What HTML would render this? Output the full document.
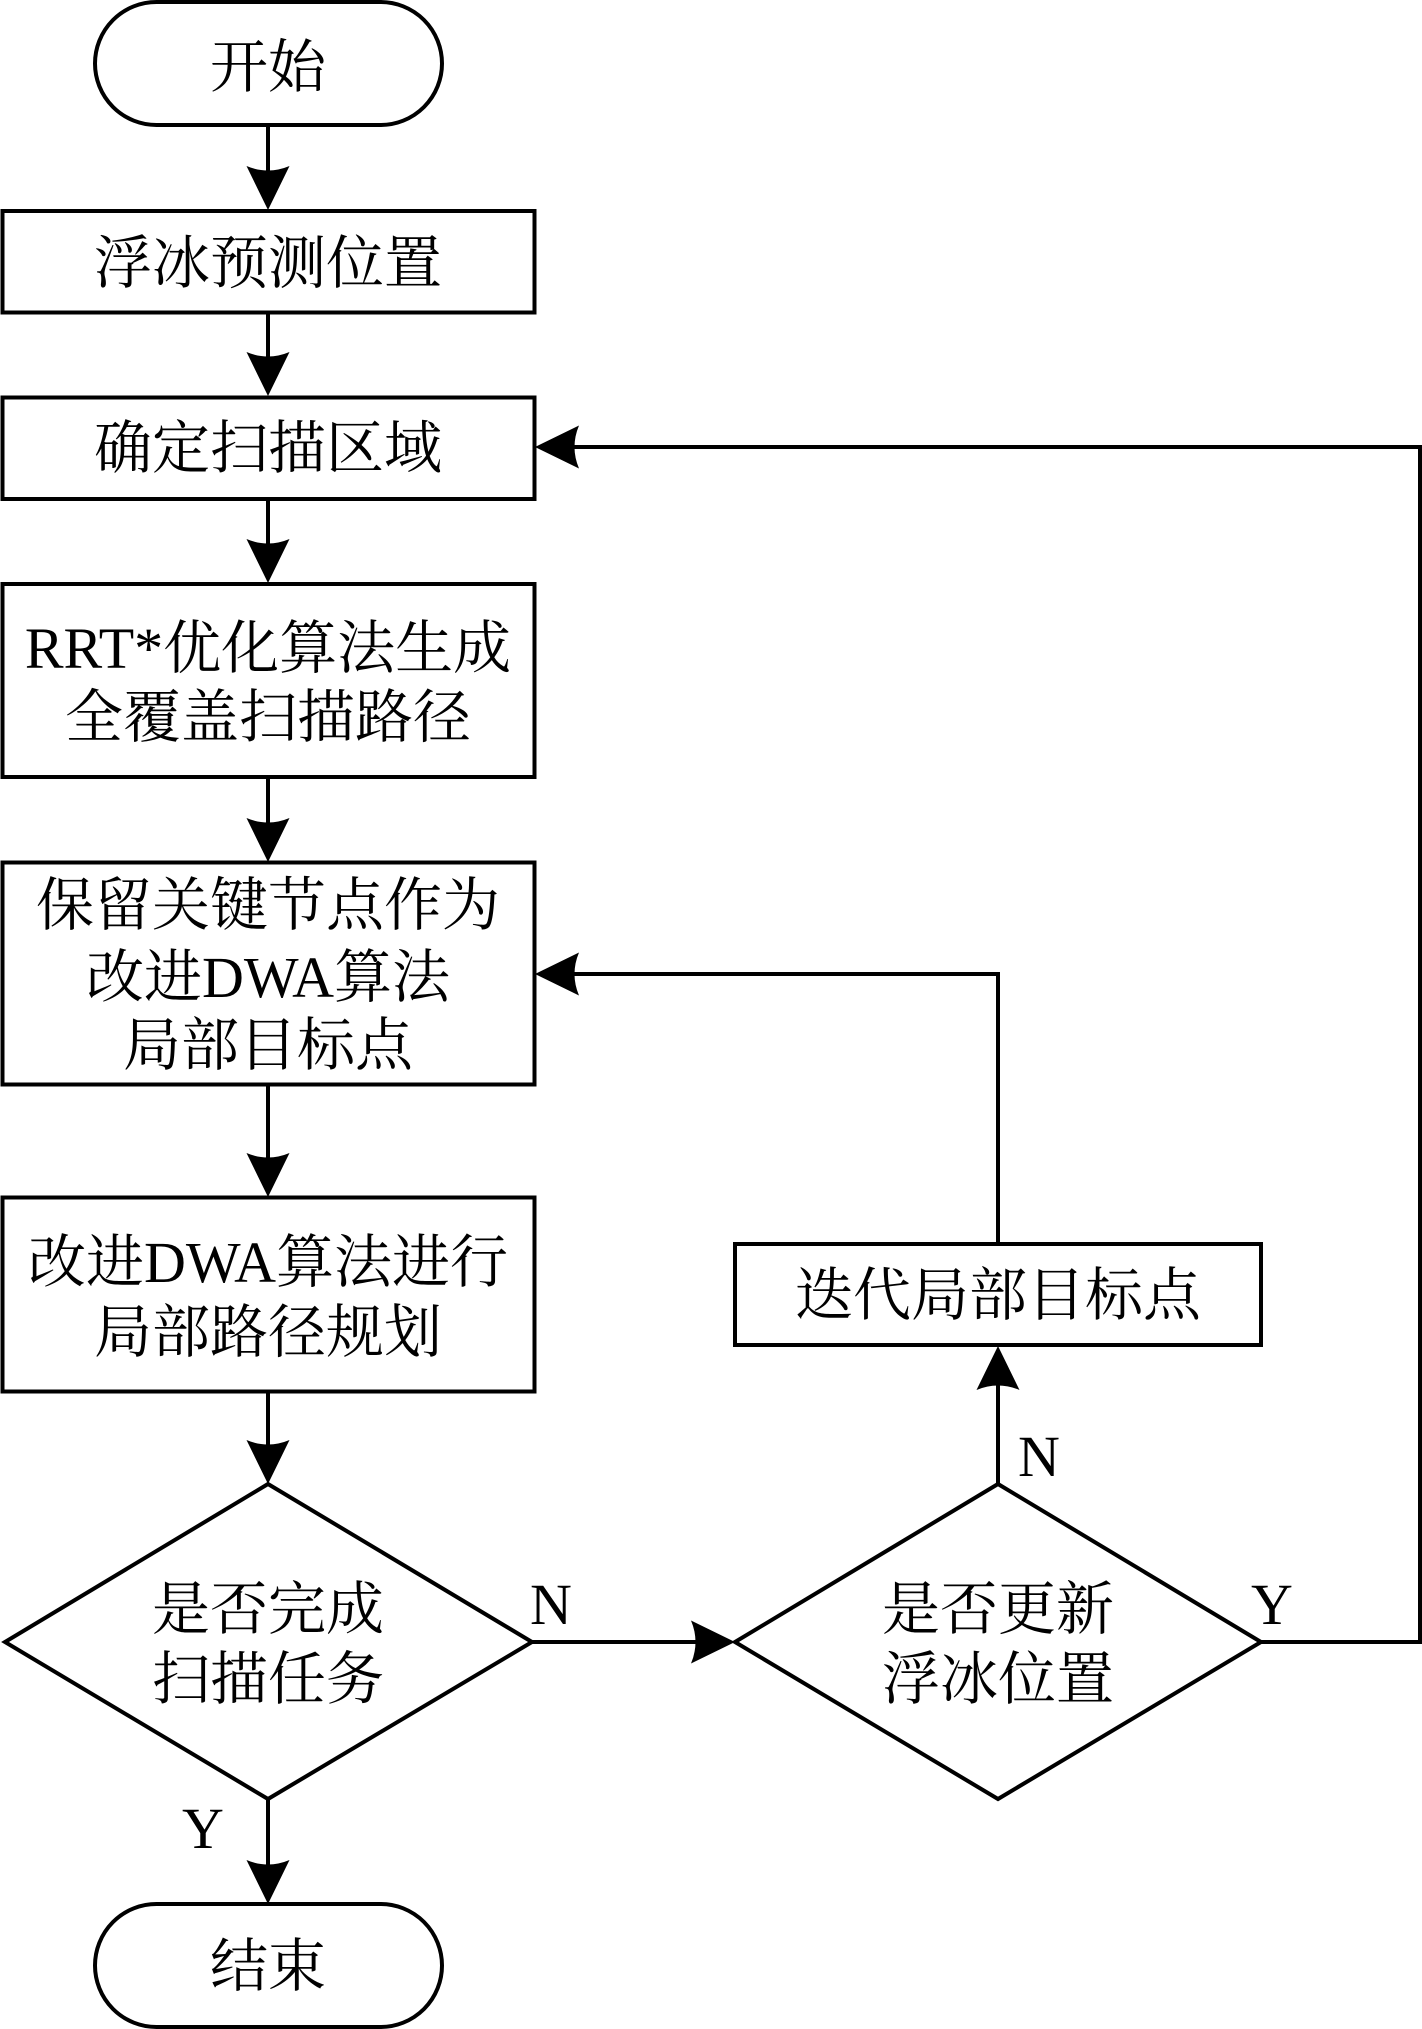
<!DOCTYPE html>
<html>
<head>
<meta charset="utf-8">
<style>
html,body{margin:0;padding:0;background:#fff;}
svg{display:block;}
text{font-family:"Liberation Serif","Noto Serif CJK SC",serif;font-size:58px;fill:#000;text-anchor:middle;}
.s{fill:none;stroke:#000;stroke-width:4;}
.b{fill:#fff;stroke:#000;stroke-width:4;stroke-linejoin:miter;}
</style>
</head>
<body>
<svg width="1422" height="2029" viewBox="0 0 1422 2029" xmlns="http://www.w3.org/2000/svg">
<defs>
<path id="d" d="M0 0L-21.5 -44Q0 -35 21.5 -44Z" fill="#000"/>
</defs>

<!-- connectors -->
<path class="s" d="M268 125V205M268 312V392M268 498V578M268 776V856M268 1084V1191M268 1391V1478M268 1798V1898"/>
<path class="s" d="M532 1642H730"/>
<path class="s" d="M998 1631V1350"/>
<path class="s" d="M998 1243V974H540"/>
<path class="s" d="M1261 1642H1420V447H540"/>

<!-- nodes -->
<rect class="b" x="95" y="2" width="347" height="123" rx="61.5" ry="61.5"/>
<rect class="b" x="2.5" y="211" width="532" height="101.5"/>
<rect class="b" x="2.5" y="397.5" width="532" height="101.5"/>
<rect class="b" x="2.5" y="584" width="532" height="193"/>
<rect class="b" x="2.5" y="862.5" width="532" height="222"/>
<rect class="b" x="2.5" y="1197.5" width="532" height="194"/>
<polygon class="b" points="268,1484 532,1642 268,1799 5,1642"/>
<polygon class="b" points="998,1484 1261,1642 998,1799 735,1642"/>
<rect class="b" x="735" y="1244" width="526" height="101"/>
<rect class="b" x="95" y="1904" width="347" height="123" rx="61.5" ry="61.5"/>

<!-- arrowheads -->
<use href="#d" transform="translate(268,210)"/>
<use href="#d" transform="translate(268,396)"/>
<use href="#d" transform="translate(268,583)"/>
<use href="#d" transform="translate(268,862)"/>
<use href="#d" transform="translate(268,1197)"/>
<use href="#d" transform="translate(268,1484)"/>
<use href="#d" transform="translate(268,1904)"/>
<use href="#d" transform="translate(735,1642) rotate(-90)"/>
<use href="#d" transform="translate(998,1346) rotate(180)"/>
<use href="#d" transform="translate(535,974) rotate(90)"/>
<use href="#d" transform="translate(535,447) rotate(90)"/>

<!-- labels -->
<text x="268" y="87">开始</text>
<text x="268" y="283">浮冰预测位置</text>
<text x="268" y="468">确定扫描区域</text>
<text x="268" y="668">RRT*优化算法生成</text>
<text x="268" y="737">全覆盖扫描路径</text>
<text x="268" y="925">保留关键节点作为</text>
<text x="268" y="997">改进DWA算法</text>
<text x="268" y="1065">局部目标点</text>
<text x="268" y="1282">改进DWA算法进行</text>
<text x="268" y="1352">局部路径规划</text>
<text x="268" y="1629">是否完成</text>
<text x="268" y="1699">扫描任务</text>
<text x="268" y="1986">结束</text>
<text x="998" y="1315">迭代局部目标点</text>
<text x="998" y="1629">是否更新</text>
<text x="998" y="1699">浮冰位置</text>
<text x="551" y="1624">N</text>
<text x="1039" y="1476">N</text>
<text x="1272" y="1624">Y</text>
<text x="203" y="1848">Y</text>
</svg>
</body>
</html>
